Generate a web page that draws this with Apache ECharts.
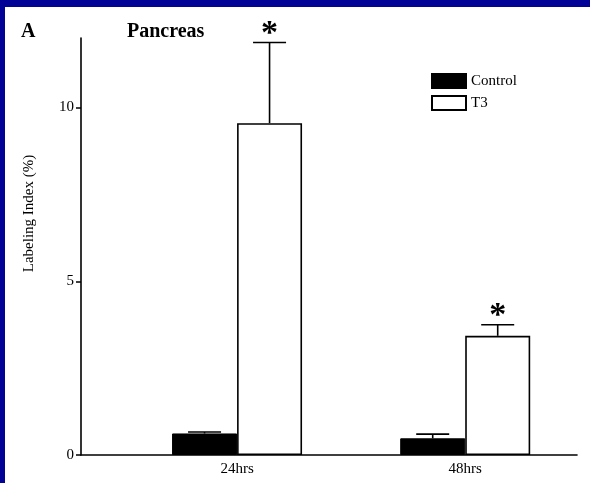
<!DOCTYPE html>
<html><head><meta charset="utf-8">
<script src="https://cdn.jsdelivr.net/npm/echarts@6/dist/echarts.min.js"></script>
<style>
html,body{margin:0;padding:0;background:#fff;}
#chart{position:absolute;left:0;top:0;width:590px;height:483px;background:#fff;}
.band{position:absolute;background:#020296;z-index:5;}
</style></head><body>
<div id="chart"></div>
<div class="band" style="left:0;top:0;width:590px;height:7px"></div>
<div class="band" style="left:0;top:0;width:5px;height:483px"></div>
<script>
// ---- data ----
const categories = ['24hrs', '48hrs'];
const controlMean = [0.62, 0.48];
const controlSE = [0.04, 0.12];
const t3Mean = [9.55, 3.43];
const t3SE = [2.32, 0.32];
const t3Significant = [true, true];
const yTickValues = [0, 5, 10];
const seriesNames = ['Control', 'T3'];

// ---- chart ----
const FONT = 'Liberation Serif';
const BAR_W = 65;
const chart = echarts.init(document.getElementById('chart'));
const xPos = categories.map((c, i) => i + 1);

const errRows = [];
categories.forEach((c, i) => {
  errRows.push([xPos[i], controlMean[i], controlMean[i] + controlSE[i], -1, 0]);
  errRows.push([xPos[i], t3Mean[i], t3Mean[i] + t3SE[i], 1, t3Significant[i] ? 1 : 0]);
});

function renderErr(params, api) {
  const x = api.value(0), m = api.value(1), hi = api.value(2), side = api.value(3), sig = api.value(4);
  const pm = api.coord([x, m]);
  const ph = api.coord([x, hi]);
  const cx = pm[0] + side * BAR_W / 2;
  const style = { stroke: '#000', lineWidth: 1.6 };
  const children = [
    { type: 'line', shape: { x1: cx, y1: pm[1], x2: cx, y2: ph[1] }, style },
    { type: 'line', shape: { x1: cx - 16.5, y1: ph[1], x2: cx + 16.5, y2: ph[1] }, style }
  ];
  if (sig) {
    children.push({ type: 'text', x: cx, y: ph[1] - 8,
      style: { text: '*', fill: '#000', font: 'bold 34px ' + FONT, align: 'center', verticalAlign: 'middle' } });
  }
  return { type: 'group', children };
}

chart.setOption({
  animation: false,
  backgroundColor: '#fff',
  title: [
    { text: 'A', left: 21, top: 22, padding: 0,
      textStyle: { fontFamily: FONT, fontSize: 20, fontWeight: 'bold', color: '#000' } },
    { text: 'Pancreas', left: 127, top: 22, padding: 0,
      textStyle: { fontFamily: FONT, fontSize: 20, fontWeight: 'bold', color: '#000' } }
  ],
  legend: {
    data: seriesNames, orient: 'vertical', left: 431, top: 73, padding: 0,
    itemWidth: 34, itemHeight: 14, itemGap: 6, icon: 'rect', selectedMode: false,
    textStyle: { fontFamily: FONT, fontSize: 15, color: '#000' }
  },
  grid: { left: 81, right: 13, top: 38, bottom: 28, containLabel: false },
  xAxis: {
    type: 'value', min: 0.316, max: 2.49,
    axisLine: { show: true, lineStyle: { color: '#000', width: 1.6 } },
    axisTick: { show: false },
    splitLine: { show: false },
    axisLabel: {
      customValues: xPos, margin: 7,
      formatter: v => categories[Math.round(v) - 1] || '',
      fontFamily: FONT, fontSize: 15, color: '#000'
    }
  },
  yAxis: {
    type: 'value', min: 0, max: 12,
    name: 'Labeling Index (%)', nameLocation: 'middle', nameGap: 44, nameRotate: 90,
    nameTextStyle: { fontFamily: FONT, fontSize: 15, color: '#000', padding: [0, 0, 0, 66] },
    axisLine: { show: true, lineStyle: { color: '#000', width: 1.6 } },
    axisTick: { show: true, customValues: yTickValues, length: 5, lineStyle: { color: '#000', width: 1.5 } },
    splitLine: { show: false },
    axisLabel: { customValues: yTickValues, margin: 7, fontFamily: FONT, fontSize: 15, color: '#000' }
  },
  series: [
    { name: seriesNames[0], type: 'bar', barWidth: BAR_W, barGap: '0%',
      data: xPos.map((x, i) => [x, controlMean[i]]),
      itemStyle: { color: '#000', borderColor: '#000', borderWidth: 1 } },
    { name: seriesNames[1], type: 'bar', barWidth: BAR_W, barGap: '0%',
      data: xPos.map((x, i) => [x, t3Mean[i]]),
      itemStyle: { color: '#fff', borderColor: '#000', borderWidth: 1.6 } },
    { name: 'err', type: 'custom', renderItem: renderErr, data: errRows,
      encode: { x: 0, y: [1, 2] }, z: 5, silent: true }
  ]
});
</script></body></html>
